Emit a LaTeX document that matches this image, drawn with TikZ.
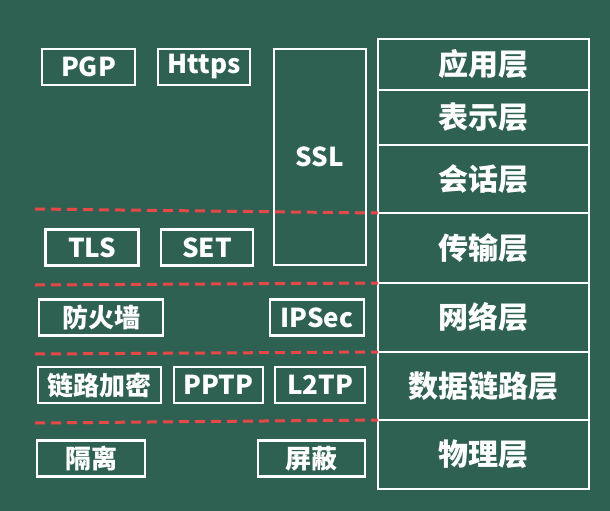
\documentclass[tikz,border=0pt]{standalone}
\usepackage{fontspec}
\newfontfamily\cjk{Noto Sans CJK SC}
\usetikzlibrary{positioning}
\definecolor{boardgreen}{HTML}{2F6152}
\definecolor{chalkred}{HTML}{E8474A}

\begin{document}
\begin{tikzpicture}[x=1pt, y=-1pt, node distance=0pt,
    every node/.style={font=\cjk\bfseries\fontsize{26}{26}\selectfont, text=white},
    box/.style={draw=white, line width=2.5pt, inner sep=0pt, outer sep=0pt, minimum height=36pt},
    layer/.style={box, minimum width=211pt, font=\cjk\bfseries\fontsize{30}{30}\selectfont},
    split/.style={draw=chalkred, line width=3pt, dash pattern=on 10pt off 6pt}]
    \fill[boardgreen] (0,0) rectangle (610,511);
    \useasboundingbox (0,0) rectangle (610,511);

    % OSI layers
    \node[layer, minimum height=51pt] (app) at (483.5,64.5) {应用层};
    \node[layer, minimum height=55pt, below=of app]   (pres)  {表示层};
    \node[layer, minimum height=68pt, below=of pres]  (sess)  {会话层};
    \node[layer, minimum height=70pt, below=of sess]  (trans) {传输层};
    \node[layer, minimum height=69pt, below=of trans] (net)   {网络层};
    \node[layer, minimum height=68pt, below=of net]   (dl)    {数据链路层};
    \node[layer, minimum height=69pt, below=of dl]    (phys)  {物理层};

    % security protocols
    \node[box, minimum width=92pt, minimum height=216pt] (ssl) at (320,157) {SSL};
    \node[box, minimum width=93pt] (pgp)   at (88.5,67)  {PGP};
    \node[box, minimum width=92pt] (https) at (204,67)   {Https};
    \node[box, minimum width=93pt] (tls)   at (92,247.5) {TLS};
    \node[box, minimum width=92pt] (set)   at (207,247.5) {SET};
    \node[box, minimum width=124pt] (fw)   at (101,317.5) {防火墙};
    \node[box, minimum width=94pt] (ipsec) at (317,317.5) {IPSec};
    \node[box, minimum width=123pt] (enc)  at (99.5,385)  {链路加密};
    \node[box, minimum width=89pt] (pptp)  at (218.5,385) {PPTP};
    \node[box, minimum width=90pt] (ltp)   at (320,385)   {L2TP};
    \node[box, minimum width=108pt] (iso)  at (91,458.5)  {隔离};
    \node[box, minimum width=107pt] (shd)  at (311.5,458.5) {屏蔽};

    % layer borders
    \coordinate (d1) at (35,209);
    \coordinate (d2) at (35,285);
    \coordinate (d3) at (35,354);
    \coordinate (d4) at (35,423);
    \draw[split] (d1) -- (trans.north west);
    \draw[split] (d2) -- (net.north west);
    \draw[split] (d3) -- (dl.north west);
    \draw[split] (d4) -- (phys.north west);
  \end{tikzpicture}
\end{document}
